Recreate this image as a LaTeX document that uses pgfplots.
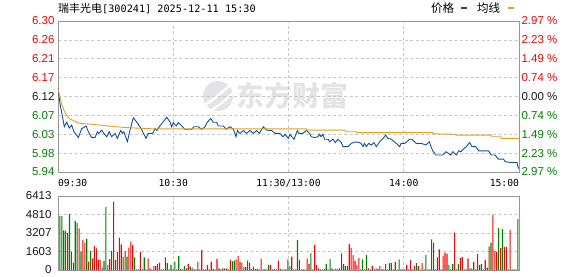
\documentclass[border=0pt]{standalone}
\usepackage{pgfplots}
\pgfplotsset{compat=1.18}
\usepackage{pgfplotstable}
\usepackage{fontspec}
\setmainfont{Liberation Sans}
\newfontfamily\cjk{Noto Sans CJK SC}
\newfontfamily\mono{DejaVu Sans Mono}
\definecolor{upred}{RGB}{255,0,0}
\definecolor{dngreen}{RGB}{0,128,0}
\definecolor{pblue}{RGB}{16,80,160}
\definecolor{agold}{RGB}{228,160,24}
\definecolor{gridc}{RGB}{200,200,200}
\definecolor{framec}{RGB}{150,150,150}
\definecolor{wm}{RGB}{228,228,232}

\pgfplotstableread{
t p
0 6.140
1 6.104
2.5 6.067
3.3 6.047
4.5 6.058
5.9 6.044
7.1 6.051
8.3 6.035
10.6 6.021
12.3 6.042
14.6 6.049
15.8 6.035
17.5 6.021
19.3 6.021
20.5 6.035
21.3 6.031
22.7 6.039
23.9 6.031
25.3 6.023
26.7 6.035
27.9 6.023
29.7 6.031
30.9 6.019
32.6 6.038
33.6 6.031
34.3 6.035
36.1 6.011
37.5 6.039
39.2 6.069
41.0 6.058
42.7 6.047
44.1 6.035
45.8 6.019
47.0 6.031
49.3 6.031
50.5 6.043
51.4 6.038
52.7 6.047
54.8 6.059
56.6 6.070
58.3 6.059
59.2 6.047
60.0 6.057
61.5 6.049
62.6 6.057
64.4 6.049
66.1 6.041
69.6 6.041
70.8 6.047
73.0 6.047
74.8 6.041
76.5 6.047
77.7 6.058
79.5 6.067
80.8 6.058
82.6 6.058
83.4 6.049
86.1 6.049
87.5 6.041
89.6 6.047
91.3 6.041
92.7 6.023
93.4 6.038
94.7 6.031
96.5 6.038
98.2 6.031
100.0 6.038
101.7 6.031
103.4 6.038
104.8 6.031
106.9 6.047
108.6 6.039
111.2 6.038
113.0 6.031
115.6 6.031
117.0 6.023
118.2 6.029
119.9 6.019
120.8 6.029
121.7 6.023
122.9 6.017
124.6 6.038
125.5 6.031
127.5 6.031
129.3 6.038
131.0 6.031
131.9 6.023
133.6 6.021
135.3 6.023
136.2 6.029
137.0 6.023
137.9 6.029
138.8 6.017
140.6 6.017
141.4 6.011
143.2 6.017
144.4 6.009
145.8 6.017
147.5 6.009
148.4 5.999
151.0 5.999
152.7 6.007
154.4 6.010
156.2 6.010
157.8 6.007
158.8 5.999
159.6 6.007
160.5 5.999
161.7 6.007
163.1 6.003
164.5 6.009
165.7 5.999
167.5 6.011
169.2 6.019
170.6 6.027
171.8 6.019
173.6 6.017
175.0 6.011
176.1 6.007
177.9 5.999
178.6 6.007
180.5 6.007
183.1 6.017
184.3 6.017
186.5 6.007
189.1 6.007
191.6 6.003
193.3 6.011
194.2 5.999
195.1 5.989
196.8 5.979
200.3 5.979
202.0 5.987
204.4 5.979
205.6 5.987
207.4 5.979
208.6 5.989
209.8 5.987
211.4 5.995
212.6 5.999
214.3 6.009
215.5 5.999
217.5 5.999
219.0 5.989
224.2 5.989
225.6 5.979
227.5 5.979
229.3 5.969
232.0 5.969
232.8 5.963
235.4 5.961
239.0 5.961
239.4 5.951
240 5.946
}\price

\pgfplotstableread{
t p
0 6.138
1 6.120
2 6.100
3 6.088
4 6.078
5 6.072
6 6.067
8 6.062
10 6.057
12 6.055
18 6.053
24 6.050
30 6.047
36 6.045
40 6.044
46 6.043
50 6.042
129.5 6.042
129.6 6.039
149.5 6.039
149.6 6.035
155.5 6.035
155.6 6.033
195.2 6.033
195.3 6.030
207 6.029
207.1 6.027
225.8 6.027
225.9 6.023
230.6 6.023
230.7 6.019
239.3 6.019
240 6.018
}\avg

\pgfplotstableread{
t v
4 3380
7 1590
11 3610
13 2600
14 2370
16 720
18 1010
19 2080
20 1880
21 900
22 900
23 200
26 430
27 950
29 5920
31 1590
32 2800
33 2230
35 1650
37 1930
38 2450
39 2170
42 60
43 1590
47 1010
48 150
49 60
50 350
51 350
52 520
53 635
55 60
56 1100
58 60
60 60
62 60
64 100
65 60
67 150
68 520
70 200
71 60
72 60
73 720
75 1730
77 60
78 450
80 720
81 100
83 950
86 150
88 150
89 60
90 870
93 920
94 1210
95 720
97 260
98 260
100 635
101 100
103 100
105 60
106 980
107 60
109 60
111 450
112 60
114 60
115 810
117 60
119 60
122 1150
123 60
126 870
127 60
128 60
129 60
130 1010
131 520
133 60
134 2170
135 430
136 150
137 60
139 100
141 60
144 60
145 150
146 60
148 1440
152 2250
153 1910
154 1300
155 810
156 450
157 1040
158 60
160 60
162 150
163 60
164 350
165 100
167 100
168 350
170 60
171 520
172 60
176 690
179 60
182 450
183 60
184 870
185 60
186 350
188 350
190 600
191 60
193 60
194 60
196 2370
197 60
199 1790
200 60
201 1210
202 1500
203 1390
205 60
207 3240
208 60
210 1050
211 1120
212 60
213 60
214 1010
217 700
218 60
219 1380
222 60
223 870
225 2050
227 4770
228 1660
229 1590
231 1900
233 2000
234 2000
236 3470
237 60
239 60
}\volup

\pgfplotstableread{
t v
1 4680
2 4680
3 3440
5 3210
6 4850
8 635
9 4250
10 4070
12 1590
15 2690
17 1650
24 780
25 5460
28 1650
30 870
34 1150
36 1150
40 1100
41 60
44 60
45 1100
46 60
54 60
57 600
59 450
61 720
63 1210
66 350
69 290
74 60
76 60
79 60
82 60
84 150
85 60
87 150
91 750
92 810
96 635
99 810
102 290
104 100
108 100
110 450
113 100
116 100
118 60
120 930
121 350
124 60
125 2600
132 1440
138 60
140 520
142 950
143 150
147 150
149 520
150 350
151 350
159 930
161 1300
166 150
169 100
173 600
174 600
175 60
177 60
178 930
180 60
181 60
187 600
189 60
192 1300
195 2660
198 1100
204 450
206 520
209 500
215 150
216 150
220 450
221 520
224 200
226 2380
230 3640
232 3540
235 60
238 60
240 4400
}\voldn

\begin{document}
\begin{tikzpicture}[x=1pt,y=1pt]
\useasboundingbox (0,0) rectangle (578,276);
% watermark logo and text
\fill[wm] (218,180) circle (15);
\draw[white, line width=2.6pt] (203,170) .. controls (214,176) and (224,186) .. (236,196);
\draw[white, line width=2.2pt] (206,163) .. controls (217,168) and (228,178) .. (236,186);
\node[text=wm, font=\cjk\bfseries\fontsize{28}{28}\selectfont, anchor=center] at (292,180) {东方财富};

% title and legend
\node[anchor=base west, inner sep=0pt] at (58,263) {\cjk\fontsize{11}{11}\selectfont 瑞丰光电\mono\fontsize{10.2}{12}\selectfont[300241] 2025-12-11 15:30};
\node[anchor=base west, inner sep=0pt] at (431,263) {\cjk\fontsize{11.5}{12}\selectfont 价格};
\fill[pblue] (461,266.5) rectangle (467,268.8);
\node[anchor=base west, inner sep=0pt] at (477,263) {\cjk\fontsize{11.5}{12}\selectfont 均线};
\fill[agold] (508,266.5) rectangle (514,268.8);

% price panel
\begin{axis}[
  at={(58pt,104pt)}, anchor=south west, scale only axis,
  width=461pt, height=151pt,
  xmin=0, xmax=240, ymin=5.938, ymax=6.302,
  xtick={0,60,120,180,240},
  xticklabels={\makebox[0pt][l]{09:30},10:30,11:30/13:00,14:00,\makebox[0pt][r]{15:00}},
  xticklabel style={font=\mono\fontsize{9.7}{10}\selectfont, anchor=base, yshift=-15pt},
  ytick={5.938,5.9835,6.029,6.0745,6.12,6.1655,6.211,6.2565,6.302},
  yticklabels={\textcolor{dngreen}{5.94},\textcolor{dngreen}{5.98},\textcolor{dngreen}{6.03},\textcolor{dngreen}{6.07},\textcolor{black!90}{6.12},\textcolor{upred}{6.17},\textcolor{upred}{6.21},\textcolor{upred}{6.26},\textcolor{upred}{6.30}},
  yticklabel style={font=\fontsize{11.5}{12}\selectfont},
  grid=major,
  major grid style={dash pattern=on 3pt off 2.5pt, gridc, line width=0.7pt},
  tick style={draw=none},
  axis line style={framec, line width=0.9pt},
  clip=true,
]
\addplot[pblue, line width=0.9pt] table[x=t,y=p] {\price};
\addplot[agold, line width=0.9pt] table[x=t,y=p] {\avg};
\end{axis}

% right percent labels
\begin{axis}[
  at={(58pt,104pt)}, anchor=south west, scale only axis,
  width=461pt, height=151pt,
  xmin=0, xmax=240, ymin=5.938, ymax=6.302,
  axis x line=none, axis y line*=right,
  ytick={5.938,5.9835,6.029,6.0745,6.12,6.1655,6.211,6.2565,6.302},
  yticklabels={\textcolor{dngreen}{2.97 \%},\textcolor{dngreen}{2.23 \%},\textcolor{dngreen}{1.49 \%},\textcolor{dngreen}{0.74 \%},\textcolor{black!90}{0.00 \%},\textcolor{upred}{0.74 \%},\textcolor{upred}{1.49 \%},\textcolor{upred}{2.23 \%},\textcolor{upred}{2.97 \%}},
  yticklabel style={font=\fontsize{11.5}{12}\selectfont, anchor=west, xshift=-1pt},
  tick style={draw=none},
  axis line style={framec, line width=0.9pt},
]
\addplot[draw=none] coordinates {(0,6.12)};
\end{axis}

% volume panel
\begin{axis}[
  at={(58pt,6pt)}, anchor=south west, scale only axis,
  width=461pt, height=74pt,
  xmin=0, xmax=240.6, ymin=0, ymax=6413,
  xtick={60,120,180}, xticklabels={},
  ytick={0,1603,3207,4810,6413},
  yticklabels={0,1603,3207,4810,6413},
  yticklabel style={font=\fontsize{11.5}{12}\selectfont, text=black!90, xshift=-3pt},
  grid=major,
  major grid style={dash pattern=on 3pt off 2.5pt, gridc, line width=0.7pt},
  tick style={draw=none},
  axis line style={framec, line width=0.9pt},
]
\addplot[ybar, bar width=1.1pt, bar shift=0pt, fill=upred, draw=none] table[x=t,y=v] {\volup};
\addplot[ybar, bar width=1.1pt, bar shift=0pt, fill=dngreen, draw=none] table[x=t,y=v] {\voldn};
\end{axis}
\end{tikzpicture}
\end{document}
